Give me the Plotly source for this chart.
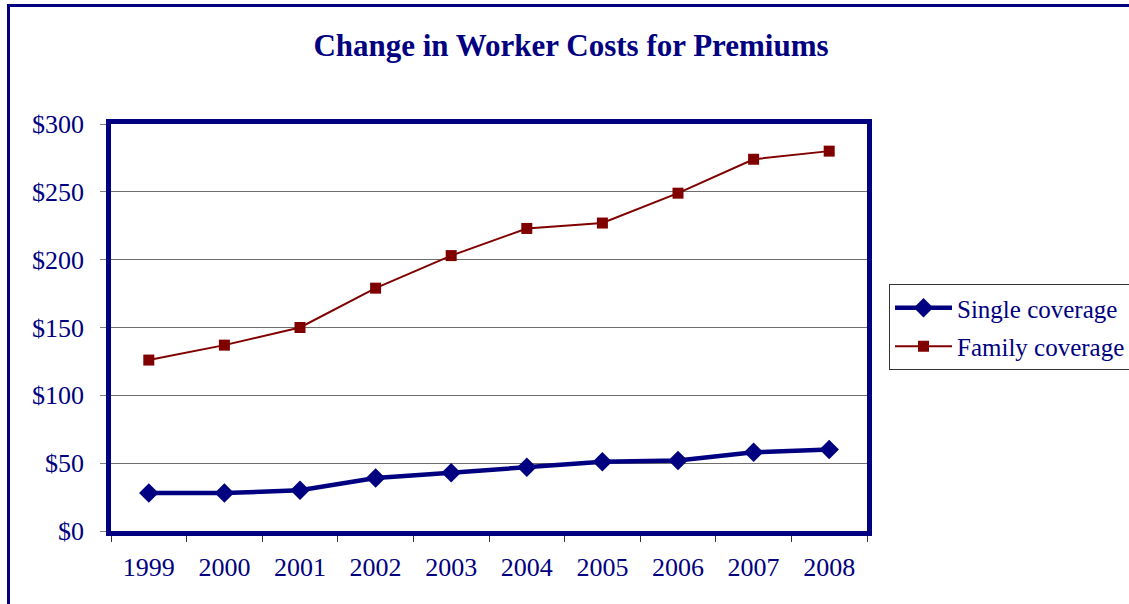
import plotly.graph_objects as go

years = ["1999", "2000", "2001", "2002", "2003", "2004", "2005", "2006", "2007", "2008"]
single = [28, 28, 30, 39, 43, 47, 51, 52, 58, 60]
family = [126, 137, 150, 179, 203, 223, 227, 249, 274, 280]
y_ticks = [0, 50, 100, 150, 200, 250, 300]
y_tick_text = ["$" + str(v) for v in y_ticks]

NAVY = "#000080"
MAROON = "#800000"
FONT = "Liberation Serif"

W, H = 1129, 604
L, R, T, B = 111, 867, 124, 531

fig = go.Figure()
fig.add_trace(go.Scatter(
    x=years, y=single, name="Single coverage", mode="lines+markers",
    line=dict(color=NAVY, width=4.5),
    marker=dict(symbol="diamond", size=15, color=NAVY),
    legendgroup="a",
))
fig.add_trace(go.Scatter(
    x=years, y=family, name="Family coverage", mode="lines+markers",
    line=dict(color=MAROON, width=2),
    marker=dict(symbol="square", size=11, color=MAROON),
    legendgroup="b",
))

def px_x(p):
    return (p - L) / (R - L)

def px_y(p):
    return (B - p) / (B - T)

fig.add_shape(type="rect", xref="paper", yref="paper",
              x0=px_x(8.5), x1=px_x(1140), y0=px_y(615), y1=px_y(5.5),
              line=dict(color=NAVY, width=3), layer="below")

fig.update_layout(
    width=W, height=H,
    margin=dict(l=L, r=W - R, t=T, b=H - B, pad=0, autoexpand=False),
    paper_bgcolor="white", plot_bgcolor="white",
    font=dict(family=FONT, color=NAVY, size=25),
    title=dict(text="<b>Change in Worker Costs for Premiums</b>",
               font=dict(family=FONT, size=31, color=NAVY),
               x=571 / W, xref="container", xanchor="center",
               y=1 - 45 / H, yref="container", yanchor="middle"),
    showlegend=True,
    legend=dict(x=px_x(889), y=px_y(284), xanchor="left", yanchor="top",
                bordercolor="#333333", borderwidth=1, bgcolor="white",
                font=dict(family=FONT, size=25, color=NAVY),
                tracegroupgap=3, itemwidth=57),
)
fig.update_xaxes(
    type="category", range=[-0.5, len(years) - 0.5],
    tickson="boundaries", ticks="outside", ticklen=6,
    tickcolor="#333333", showline=True, linecolor=NAVY, linewidth=4.5, mirror=True,
    showgrid=False, ticklabelstandoff=9,
    tickfont=dict(family=FONT, size=26, color=NAVY),
)
fig.update_yaxes(
    range=[0, 300], tickvals=y_ticks, ticktext=y_tick_text,
    ticks="outside", ticklen=6,
    tickcolor="#808080", showline=True, linecolor=NAVY, linewidth=4.5, mirror=True,
    showgrid=True, gridcolor="#6e6e6e", gridwidth=1, zeroline=False,
    ticklabelstandoff=11,
    tickfont=dict(family=FONT, size=26, color=NAVY),
)

fig.write_html("out.html")
